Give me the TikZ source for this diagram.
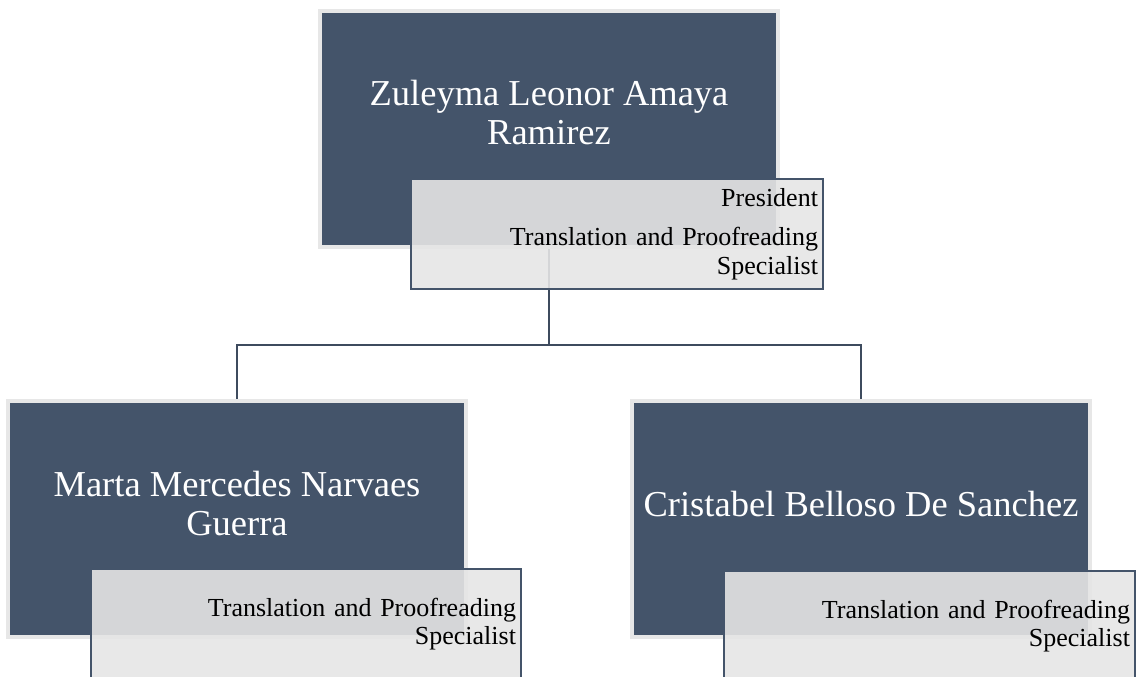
\documentclass[tikz,border=0pt]{standalone}
\usepackage{fontspec}
\setmainfont{Liberation Serif}
\definecolor{slate}{HTML}{44546A}
\definecolor{slateline}{HTML}{3E4B5E}
\definecolor{rim}{HTML}{E7E7E7}
\definecolor{tag}{HTML}{E5E5E5}
\tikzset{
  namebox/.style={draw=rim, line width=4pt, fill=slate, minimum width=458pt,
    minimum height=236pt, inner sep=0pt},
  nametext/.style={text=white, font=\fontsize{36.5}{39}\selectfont, align=center},
  rolebox/.style={draw=slate, line width=2pt, fill=tag, fill opacity=0.9,
    text opacity=1, font=\fontsize{26}{28.5}\selectfont, align=right,
    minimum height=110pt, inner xsep=5pt},
  link/.style={draw=slateline, line width=2pt}
}
\begin{document}
\begin{tikzpicture}[x=1pt, y=-1pt]
    \useasboundingbox (0,0) rectangle (1138,677);

    % Dark boxes
    \node[namebox] (zuleyma) at (549,129) {};
    \node[namebox] (marta) at (237,519) {};
    \node[namebox] (cristabel) at (861,519) {};

    % Names
    \node[nametext] (zuleymaname) at ([yshift=-104pt]zuleyma.north) {Zuleyma Leonor Amaya\\Ramirez};
    \node[nametext] (martaname) at ([yshift=-105pt]marta.north) {Marta Mercedes Narvaes\\Guerra};
    \node[nametext] (cristabelname) at ([yshift=-105pt]cristabel.north) {Cristabel Belloso De Sanchez};

    % Connectors
    \coordinate (hub) at (549,345);
    \draw[link] (zuleyma.south) -- (hub) -| (marta.north);
    \draw[link] (hub) -| (cristabel.north);

    % Role tags
    \node[rolebox, text width=402pt] (zuleymarole) at (617,234)
        {President\\[10.5pt]Translation and Proofreading\\Specialist};
    \node[rolebox, text width=420pt] (martarole) at (306,624)
        {Translation and Proofreading\\Specialist};
    \node[rolebox, text width=401pt] (cristabelrole) at (929.5,626)
        {Translation and Proofreading\\Specialist};
\end{tikzpicture}
\end{document}
